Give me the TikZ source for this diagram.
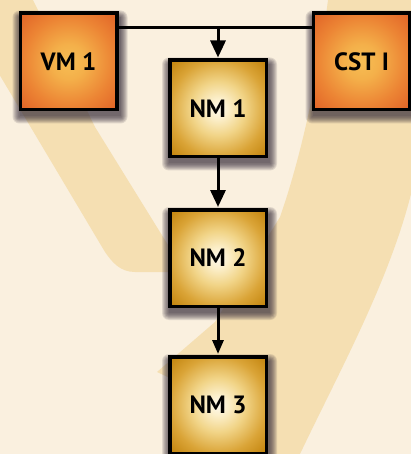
\documentclass[tikz,border=0pt]{standalone}
\usepackage{fontspec}
\setmainfont{PT Sans}
\usetikzlibrary{arrows.meta,calc}
\definecolor{cream}{RGB}{250,240,223}
\definecolor{tanband}{RGB}{245,223,178}
\definecolor{shadowcol}{RGB}{50,40,55}
\definecolor{gA}{RGB}{253,249,238}
\definecolor{gB}{RGB}{252,240,205}
\definecolor{gC}{RGB}{241,212,135}
\definecolor{gD}{RGB}{218,164,55}
\definecolor{gE}{RGB}{196,134,16}
\definecolor{oA}{RGB}{246,190,84}
\definecolor{oB}{RGB}{244,176,74}
\definecolor{oC}{RGB}{236,132,52}
\definecolor{oD}{RGB}{226,102,40}
\pgfdeclareradialshading{goldshade}{\pgfpoint{0bp}{0bp}}{color(0bp)=(gA); color(5bp)=(gB); color(14bp)=(gC); color(25bp)=(gD); color(34bp)=(gE); color(100bp)=(gE)}
\pgfdeclareradialshading{orangeshade}{\pgfpoint{0bp}{0bp}}{color(0bp)=(oA); color(9bp)=(oB); color(23bp)=(oC); color(34bp)=(oD); color(100bp)=(oD)}
\pgfdeclarelayer{bgl}
\pgfdeclarelayer{shl}
\pgfsetlayers{bgl,shl,main}
\tikzset{
  box/.style={draw=black, line width=3.5pt, minimum size=96.5pt, inner sep=0pt,
    font=\fontsize{25}{25}\selectfont\bfseries, text=black},
  goldbox/.style={box, shade, shading=goldshade},
  orangebox/.style={box, shade, shading=orangeshade},
  link/.style={line width=3pt, draw=black},
  arr/.style={link, -{Triangle[length=17pt,width=15pt]}, shorten >=1pt},
  arrsmall/.style={link, -{Triangle[length=14pt,width=11pt]}, shorten >=1pt},
}
\newcommand{\myshadow}[1]{%
  \begin{pgfonlayer}{shl}
    \foreach \k in {0,...,7}{
      \fill[shadowcol, opacity=0.13, rounded corners=\k pt]
        ($(#1.north west)+(-\k+1,-\k+6)$) rectangle ($(#1.south east)+(\k+2,\k+5)$);
    }
  \end{pgfonlayer}}
\begin{document}
\begin{tikzpicture}[x=1pt,y=-1pt]
  \useasboundingbox (0,0) rectangle (411,454);
  \begin{pgfonlayer}{bgl}
    \fill[cream] (0,0) rectangle (411,454);
    \fill[tanband] (-45,0) -- (33,0) -- (95,127) -- (168,245) -- (175,272) -- (135,272)
      .. controls (120,272) and (112,262) .. (105,252) -- cycle;
    \fill[tanband] (328,0) .. controls (318,80) and (300,160) .. (280,217) -- (215,322)
      -- (157,372) -- (185,385) -- (250,454) -- (300,454)
      .. controls (340,370) and (390,280) .. (412,190) -- (440,0) -- cycle;
  \end{pgfonlayer}

  \node[orangebox] (vm) at (68.5,61.5) {VM 1};
  \node[orangebox] (cst) at (361.5,61.5) {CST I};
  \node[goldbox] (nm1) at (218,108.5) {NM 1};
  \node[goldbox] (nm2) at (218,258) {NM 2};
  \node[goldbox] (nm3) at (218,405) {NM 3};

  \myshadow{vm}
  \myshadow{cst}
  \myshadow{nm1}
  \myshadow{nm2}
  \myshadow{nm3}

  \coordinate (j) at (218,28);
  \draw[link] (vm.east |- j) -- (cst.west |- j);
  \draw[arr] (j) -- (nm1.north);
  \draw[arr] (nm1.south) -- (nm2.north);
  \draw[arrsmall] (nm2.south) -- (nm3.north);
\end{tikzpicture}
\end{document}
